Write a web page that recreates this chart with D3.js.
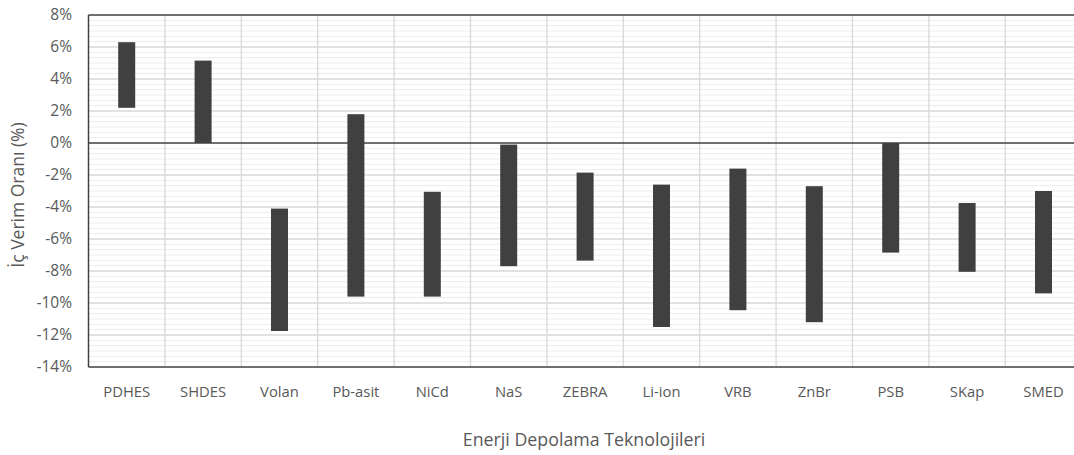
<!DOCTYPE html>
<html>
<head>
<meta charset="utf-8">
<script src="https://cdn.jsdelivr.net/npm/d3@7/dist/d3.min.js"></script>
<style>
  html, body { margin: 0; padding: 0; background: #fff; }
  svg { display: block; }
  text { font-family: "Open Sans", "Noto Sans", sans-serif; fill: #595959; }
</style>
</head>
<body>
<svg id="chart" width="1074" height="455"></svg>
<script>
// Energy storage technologies
const categories = ["PDHES", "SHDES", "Volan", "Pb-asit", "NiCd", "NaS", "ZEBRA",
                    "Li-ion", "VRB", "ZnBr", "PSB", "SKap", "SMED"];
// Range of internal efficiency rate (%), low and high end of each floating bar
const lowValues  = [2.2, 0, -11.75, -9.6, -9.6, -7.7, -7.35, -11.5, -10.45, -11.2, -6.85, -8.05, -9.4];
const highValues = [6.3, 5.15, -4.1, 1.8, -3.05, -0.1, -1.85, -2.6, -1.6, -2.7, 0, -3.75, -3.0];
const yTicks = [8, 6, 4, 2, 0, -2, -4, -6, -8, -10, -12, -14];

const svg = d3.select("#chart");
const plotLeft = 88.5, plotTop = 15, plotBottom = 367;
const bandW = 76.4;
const plotRight = plotLeft + bandW * categories.length;

const x = d3.scaleBand().domain(categories).range([plotLeft, plotRight]).paddingInner(0).paddingOuter(0);
const y = d3.scaleLinear().domain([-14, 8]).range([plotBottom, plotTop]);

// minor horizontal gridlines
const minor = d3.range(-14, 8.0001, 2 / 6).filter(v => Math.abs(Math.round(v / 2) * 2 - v) > 1e-6);
svg.append("g").selectAll("line").data(minor).join("line")
  .attr("x1", plotLeft).attr("x2", plotRight)
  .attr("y1", d => y(d)).attr("y2", d => y(d))
  .attr("stroke", "#ececec").attr("stroke-width", 1);

// major horizontal gridlines
svg.append("g").selectAll("line").data(yTicks.filter(v => v !== 0 && v !== 8 && v !== -14)).join("line")
  .attr("x1", plotLeft).attr("x2", plotRight)
  .attr("y1", d => y(d)).attr("y2", d => y(d))
  .attr("stroke", "#d9d9d9").attr("stroke-width", 1.3);

// vertical gridlines at category boundaries
svg.append("g").selectAll("line").data(categories.slice(1)).join("line")
  .attr("x1", d => x(d)).attr("x2", d => x(d))
  .attr("y1", plotTop).attr("y2", plotBottom)
  .attr("stroke", "#d9d9d9").attr("stroke-width", 1.3);

// floating bars
const barW = 17;
svg.append("g").selectAll("rect").data(categories).join("rect")
  .attr("x", d => x(d) + x.bandwidth() / 2 - barW / 2)
  .attr("width", barW)
  .attr("y", (d, i) => y(highValues[i]))
  .attr("height", (d, i) => y(lowValues[i]) - y(highValues[i]))
  .attr("fill", "#404040");

// plot frame and zero line
const frame = svg.append("g").attr("stroke", "#404040").attr("stroke-width", 1.5);
frame.append("line").attr("x1", plotLeft).attr("x2", plotRight).attr("y1", plotTop).attr("y2", plotTop);
frame.append("line").attr("x1", plotLeft).attr("x2", plotRight).attr("y1", plotBottom).attr("y2", plotBottom);
frame.append("line").attr("x1", plotLeft).attr("x2", plotLeft).attr("y1", plotTop).attr("y2", plotBottom);
frame.append("line").attr("x1", plotLeft).attr("x2", plotRight).attr("y1", y(0)).attr("y2", y(0));

// y tick labels
svg.append("g").selectAll("text").data(yTicks).join("text")
  .attr("x", 72).attr("y", d => y(d)).attr("dy", "0.35em")
  .attr("text-anchor", "end").attr("font-size", 15.5)
  .text(d => d + "%");

// x tick labels
svg.append("g").selectAll("text").data(categories).join("text")
  .attr("x", d => x(d) + x.bandwidth() / 2).attr("y", 397)
  .attr("text-anchor", "middle").attr("font-size", 14.8)
  .text(d => d);

// axis titles
svg.append("text")
  .attr("transform", `translate(24, ${(plotTop + plotBottom) / 2 + 4}) rotate(-90)`)
  .attr("text-anchor", "middle").attr("font-size", 17.5)
  .text("İç Verim Oranı (%)");
svg.append("text")
  .attr("x", (plotLeft + plotRight) / 2 - 1).attr("y", 446)
  .attr("text-anchor", "middle").attr("font-size", 17.8)
  .text("Enerji Depolama Teknolojileri");
</script>
</body>
</html>
